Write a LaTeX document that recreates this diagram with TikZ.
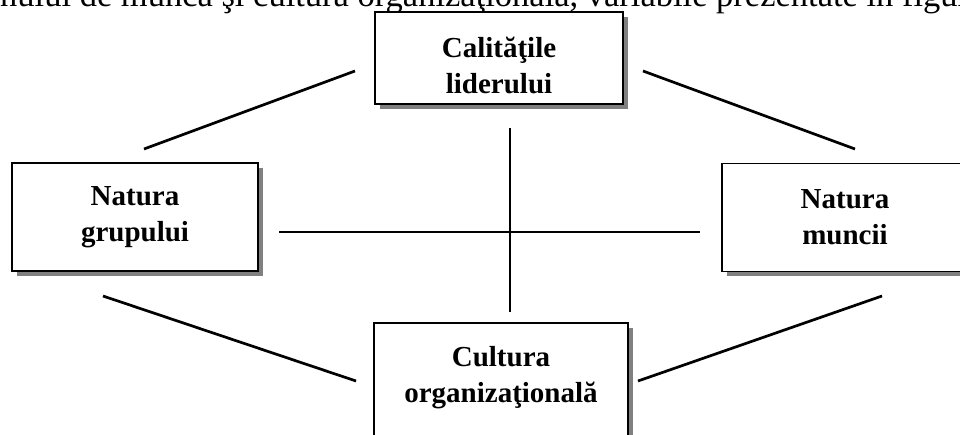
\documentclass[tikz,border=0pt]{standalone}
\usepackage{fontspec}
\setmainfont{Liberation Serif}
\usetikzlibrary{shadows, positioning}

\begin{document}
\begin{tikzpicture}[x=1pt, y=-1pt,
    factor/.style={draw, line width=1.5pt, fill=white, align=center,
        font=\fontsize{29}{36}\selectfont\bfseries,
        minimum width=248pt, minimum height=108pt, inner sep=0pt,
        drop shadow={shadow xshift=5pt, shadow yshift=-5pt, fill=black!50, opacity=1}},
    link/.style={line width=2.7pt}]
    \useasboundingbox (0,0) rectangle (960,435);
    \clip (0,0) rectangle (960,435);

    % Line of text above the figure (cut by the page edge)
    \node[anchor=base west, inner sep=0pt, font=\fontsize{34.5}{40}\selectfont] (intro) at (0,7)
        {nului de muncă şi cultura organizaţională, variabile prezentate în figura};

    % The four factors
    \node[factor, minimum height=92pt, text height=72pt, text depth=0pt] (lider) at (499,58) {Calităţile\\liderului};
    \node[factor, minimum width=246pt] (grup) at (135,217) {Natura\\grupului};
    \node[factor, minimum width=246pt] (munca) at (845,217.5) {Natura\\muncii};
    \node[factor, minimum width=254pt, minimum height=124pt, text depth=21pt] (cultura) at (501,385) {Cultura\\organizaţională};

    % Free ends of the connectors
    \coordinate (tl1) at (144,149);  \coordinate (tl2) at (355,71);
    \coordinate (tr1) at (643,71);   \coordinate (tr2) at (855,149);
    \coordinate (bl1) at (103,296);  \coordinate (bl2) at (356,381);
    \coordinate (br1) at (638,381);  \coordinate (br2) at (882,296);
    \coordinate (h1) at (279,232);   \coordinate (h2) at (700,232);
    \coordinate (v1) at (510,128);   \coordinate (v2) at (510,312);

    % Connectors
    \draw[link] (tl1) -- (tl2);
    \draw[link] (tr1) -- (tr2);
    \draw[link] (bl1) -- (bl2);
    \draw[link] (br1) -- (br2);
    \draw[link] (h1) -- (h2);
    \draw[link] (v1) -- (v2);
\end{tikzpicture}
\end{document}
